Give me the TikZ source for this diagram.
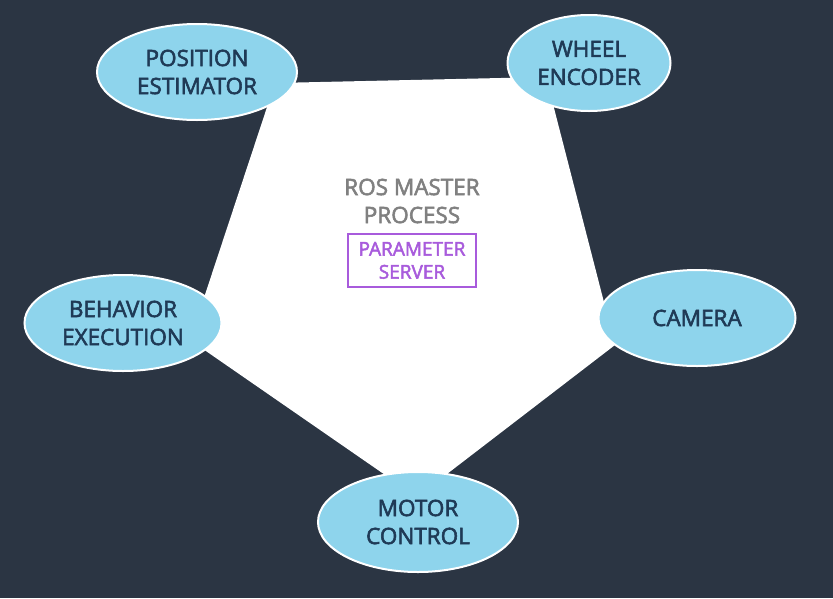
\documentclass[tikz,border=0pt]{standalone}
\usepackage{fontspec}
\setmainfont{Open Sans}
\newfontfamily\semibold{Open Sans}[FakeBold=2.5]
\usetikzlibrary{positioning}
\usetikzlibrary{shapes.geometric}
\definecolor{bgnavy}{HTML}{2B3543}
\definecolor{bubble}{HTML}{8ED4EC}
\definecolor{bubbletext}{HTML}{1F3A56}
\definecolor{mastergray}{HTML}{808080}
\definecolor{parampurple}{HTML}{A85BDC}

\begin{document}
\begin{tikzpicture}[x=1pt, y=-1pt, main/.style = {draw=white, line width=2pt, ellipse, fill=bubble, text=bubbletext, align=center, inner sep=0pt, minimum width=200pt, minimum height=96pt, font=\semibold\fontsize{22.5}{28}\selectfont}, param/.style = {draw=parampurple, line width=2.2pt, text=parampurple, align=center, minimum width=128pt, minimum height=53pt, inner sep=0pt, font=\semibold\fontsize{19}{23}\selectfont}]
					\fill[bgnavy] (0,0) rectangle (833,598);
					\useasboundingbox (0,0) rectangle (833,598);
					% master process area
					\coordinate (tl) at (275,83);
					\coordinate (tr) at (546,77);
					\coordinate (rr) at (615,345);
					\coordinate (bb) at (417,497);
					\coordinate (ll) at (190,340);
					\fill[white] (tl) -- (tr) -- (rr) -- (bb) -- (ll) -- cycle;
					
					\node[text=mastergray, align=center, font=\semibold\fontsize{22.5}{28}\selectfont] (ros) at (412,201) {ROS MASTER\\PROCESS};
					\node[param, below=6pt of ros] (srv) {PARAMETER\\SERVER};
					
					\node[main] (pos) at (197,72) {POSITION\\ESTIMATOR};
					\node[main, minimum width=163pt] (wheel) at (589,63) {WHEEL\\ENCODER};
					\node[main, minimum width=197pt] (behav) at (123,323) {BEHAVIOR\\EXECUTION};
					\node[main, minimum width=197pt] (cam) at (697,318) {CAMERA};
					\node[main, minimum height=100pt] (motor) at (418,522) {MOTOR\\CONTROL};
				\end{tikzpicture}
\end{document}
